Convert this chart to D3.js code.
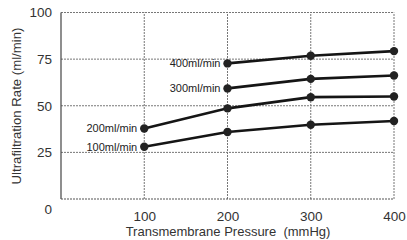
<!DOCTYPE html>
<html>
<head>
<meta charset="utf-8">
<script src="https://cdn.jsdelivr.net/npm/d3@7"></script>
<style>
  body { margin: 0; background: #fff; }
  svg { font-family: "Liberation Sans", Arial, sans-serif; }
</style>
</head>
<body>
<svg id="chart" width="407" height="240"></svg>
<script>
// data
const pressures = [100, 200, 300, 400];
const seriesNames = ["100ml/min", "200ml/min", "300ml/min", "400ml/min"];
const rate100 = [28, 35.9, 39.8, 41.8];
const rate200 = [37.8, 48.6, 54.6, 55];
const rate300 = [null, 59.3, 64.4, 66.2];
const rate400 = [null, 72.7, 76.8, 79.3];
const yTicks = [0, 25, 50, 75, 100];
const xTicks = [100, 200, 300, 400];

const allRates = [rate100, rate200, rate300, rate400];

const margin = {top: 12.5, right: 13, bottom: 41, left: 61};
const width = 407, height = 240;

const svg = d3.select("#chart");

const x = d3.scaleLinear().domain([0, 400]).range([margin.left, width - margin.right]);
const y = d3.scaleLinear().domain([0, 100]).range([height - margin.bottom, margin.top]);

// grid lines
svg.append("g")
  .selectAll("line.h")
  .data(yTicks.filter(d => d > 0))
  .join("line")
  .attr("x1", x(0)).attr("x2", x(400))
  .attr("y1", d => y(d)).attr("y2", d => y(d))
  .attr("stroke", "#777").attr("stroke-width", 1)
  .attr("stroke-dasharray", "2,1");

svg.append("g")
  .selectAll("line.v")
  .data(xTicks)
  .join("line")
  .attr("x1", d => x(d)).attr("x2", d => x(d))
  .attr("y1", y(0)).attr("y2", y(100))
  .attr("stroke", "#777").attr("stroke-width", 1)
  .attr("stroke-dasharray", "2,1");

// frame: left + bottom
svg.append("line")
  .attr("x1", x(0)).attr("x2", x(0)).attr("y1", y(0)).attr("y2", y(100))
  .attr("stroke", "#444").attr("stroke-width", 1.2);
svg.append("line")
  .attr("x1", x(0)).attr("x2", x(400)).attr("y1", y(0)).attr("y2", y(0))
  .attr("stroke", "#555").attr("stroke-width", 1.2)
  .attr("stroke-dasharray", "2,1");

// y axis
const yAxisG = svg.append("g")
  .attr("transform", "translate(" + margin.left + ",0)")
  .call(d3.axisLeft(y).tickValues(yTicks).tickSize(0).tickPadding(9));
yAxisG.select(".domain").remove();
yAxisG.selectAll("text")
  .attr("font-size", 13.5).attr("fill", "#333")
  .attr("font-family", "Liberation Sans, Arial, sans-serif")
  .attr("dy", d => d === 0 ? "1.1em" : "0.32em");

// x axis
const xAxisG = svg.append("g")
  .attr("transform", "translate(0," + y(0) + ")")
  .call(d3.axisBottom(x).tickValues(xTicks).tickSize(0).tickPadding(12));
xAxisG.select(".domain").remove();
xAxisG.selectAll("text")
  .attr("font-size", 13.5).attr("fill", "#333")
  .attr("font-family", "Liberation Sans, Arial, sans-serif");

// axis titles
svg.append("text")
  .attr("x", 228).attr("y", 236)
  .attr("text-anchor", "middle")
  .attr("font-size", 13).attr("fill", "#333")
  .attr("xml:space", "preserve")
  .text("Transmembrane Pressure  (mmHg)");

svg.append("text")
  .attr("transform", "translate(21,106) rotate(-90)")
  .attr("text-anchor", "middle")
  .attr("font-size", 13.2).attr("fill", "#333")
  .text("Ultrafiltration Rate (ml/min)");

// lines + dots
const line = d3.line()
  .defined(d => d.v !== null)
  .x(d => x(d.p))
  .y(d => y(d.v));

allRates.forEach(function(rates, i) {
  const pts = pressures.map((p, j) => ({p: p, v: rates[j]}));
  svg.append("path")
    .attr("d", line(pts))
    .attr("fill", "none")
    .attr("stroke", "#151515")
    .attr("stroke-width", 2.6);
  svg.append("g")
    .selectAll("circle")
    .data(pts.filter(d => d.v !== null))
    .join("circle")
    .attr("cx", d => x(d.p)).attr("cy", d => y(d.v))
    .attr("r", 4.2)
    .attr("fill", "#222");

  const first = pts.find(d => d.v !== null);
  svg.append("text")
    .attr("x", x(first.p) - 7)
    .attr("y", y(first.v))
    .attr("dy", "0.35em")
    .attr("text-anchor", "end")
    .attr("font-size", 11).attr("fill", "#222")
    .text(seriesNames[i]);
});
</script>
</body>
</html>
